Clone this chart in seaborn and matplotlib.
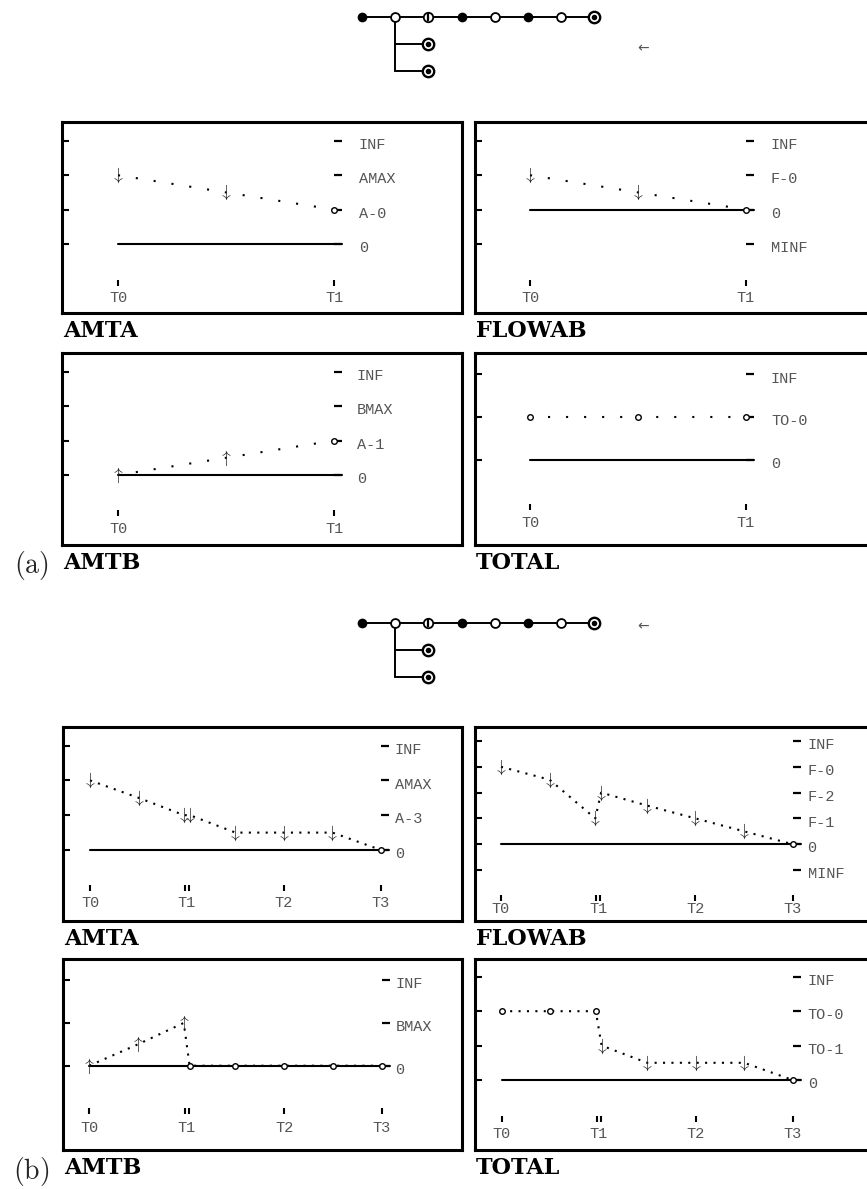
import matplotlib
matplotlib.use("Agg")
import matplotlib.pyplot as plt
import matplotlib.transforms as mtransforms
import pandas as pd
import seaborn as sns

# ------------------------------------------------------------------ data
TREE_NODES_A = ["filled", "open", "bar", "filled", "open", "filled", "open", "final"]
TREE_BRANCH_A = ["final", "final"]
TREE_NODES_B = ["filled", "open", "bar", "filled", "open", "filled", "open", "final"]
TREE_BRANCH_B = ["final", "final"]
TREE_BRANCH_PARENT = 1

TIMES_A = ["T0", "T1"]
TICK_COUNT_A = [1, 1]
TIMES_B = ["T0", "T1", "T2", "T3"]
TICK_COUNT_B = [1, 2, 1, 1]

# part (a)
AMTA_A_LANDMARKS = ["0", "A-0", "AMAX", "INF"]
AMTA_A_T = [0, 0.5, 1]
AMTA_A_V = [2, 1.5, 1]
AMTA_A_DIR = ["dec", "dec", "std"]

FLOWAB_A_LANDMARKS = ["MINF", "0", "F-0", "INF"]
FLOWAB_A_T = [0, 0.5, 1]
FLOWAB_A_V = [2, 1.5, 1]
FLOWAB_A_DIR = ["dec", "dec", "std"]

AMTB_A_LANDMARKS = ["0", "A-1", "BMAX", "INF"]
AMTB_A_T = [0, 0.5, 1]
AMTB_A_V = [0, 0.5, 1]
AMTB_A_DIR = ["inc", "inc", "std"]

TOTAL_A_LANDMARKS = ["0", "TO-0", "INF"]
TOTAL_A_T = [0, 0.5, 1]
TOTAL_A_V = [1, 1, 1]
TOTAL_A_DIR = ["std", "std", "std"]

# part (b)
B_T = [0, 0.5, 0.97, 1.03, 1.5, 2, 2.5, 3]

AMTA_B_LANDMARKS = ["0", "A-3", "AMAX", "INF"]
AMTA_B_V = [2, 1.5, 1, 1, 0.5, 0.5, 0.5, 0]
AMTA_B_DIR = ["dec", "dec", "dec", "dec", "dec", "dec", "dec", "std"]

FLOWAB_B_LANDMARKS = ["MINF", "0", "F-1", "F-2", "F-0", "INF"]
FLOWAB_B_V = [4, 3.5, 2, 3, 2.5, 2, 1.5, 1]
FLOWAB_B_DIR = ["dec", "dec", "dec", "dec", "dec", "dec", "dec", "std"]

AMTB_B_LANDMARKS = ["0", "BMAX", "INF"]
AMTB_B_V = [0, 0.5, 1, 0, 0, 0, 0, 0]
AMTB_B_DIR = ["inc", "inc", "inc", "std", "std", "std", "std", "std"]

TOTAL_B_LANDMARKS = ["0", "TO-1", "TO-0", "INF"]
TOTAL_B_V = [2, 2, 2, 1, 0.5, 0.5, 0.5, 0]
TOTAL_B_DIR = ["std", "std", "std", "dec", "dec", "dec", "dec", "std"]

# ------------------------------------------------------------------ style
sns.set_theme(style="white")
plt.rcParams["mathtext.fontset"] = "cm"
plt.rcParams["font.family"] = ["DejaVu Sans"]

W, H = 867, 1189
fig = plt.figure(figsize=(W / 100, H / 100), dpi=100)
fig.patch.set_facecolor("white")

MONO = "Liberation Mono"
GRAY = "#555555"
TITLE_FONT = "DejaVu Serif"


def add_px_axes(L, T, R, B):
    return fig.add_axes([L / W, 1 - B / H, (R - L) / W, (B - T) / H])


# layout (pixel geometry of each panel)
GEOM = {
    "amta_a":   dict(L=62, T=122, R=462, B=313, x0=118, dx=216, y0=244, dy=34.4,
                     tick=283, lab=298, lm=25, period=18.0),
    "flowab_a": dict(L=475, T=122, R=885, B=313, x0=530, dx=216, y0=244, dy=34.4,
                     tick=283, lab=298, lm=25, period=18.0),
    "amtb_a":   dict(L=62, T=353, R=462, B=545, x0=118, dx=216, y0=475, dy=34.4,
                     tick=513, lab=529, lm=23, period=18.0),
    "total_a":  dict(L=475, T=353, R=885, B=545, x0=530, dx=216, y0=460, dy=42.8,
                     tick=507, lab=523, lm=25, period=18.0),
    "amta_b":   dict(L=63, T=727, R=462, B=921, x0=90, dx=97, y0=850, dy=34.8,
                     tick=888, lab=903, lm=14, period=8.4),
    "flowab_b": dict(L=475, T=727, R=885, B=921, x0=501, dx=97.2, y0=870, dy=25.8,
                     tick=898, lab=909, lm=15, period=8.4),
    "amtb_b":   dict(L=63, T=959, R=462, B=1150, x0=89.3, dx=97.4, y0=1065.7, dy=42.8,
                     tick=1111, lab=1127.7, lm=14, period=8.4),
    "total_b":  dict(L=475, T=959, R=885, B=1150, x0=501.7, dx=97, y0=1080, dy=34.4,
                     tick=1119, lab=1134, lm=15, period=8.4),
}


def draw_panel(key, title, landmarks, t, v, dirs, tnames, tcounts):
    g = GEOM[key]
    ax = add_px_axes(g["L"], g["T"], g["R"], g["B"])
    ax.set_facecolor("none")

    def px(p):
        return p / g["dx"]

    def lev(y):
        return (g["y0"] - y) / g["dy"]

    levels = list(range(len(landmarks)))
    tlast = len(tnames) - 1
    zero = landmarks.index("0")

    # zero axis line
    zdf = pd.DataFrame({"t": [0, tlast + px(8)], "v": [zero, zero]})
    sns.lineplot(data=zdf, x="t", y="v", ax=ax, color="black", linewidth=1.5,
                 estimator=None, sort=False)
    # landmark dashes + names
    ax.hlines(levels, tlast, tlast + px(8), color="black", linewidth=1.6)
    lab_tr = mtransforms.offset_copy(ax.transData, fig=fig, y=-3, units="points")
    for lv, name in zip(levels, landmarks):
        ax.text(tlast + px(g["lm"]), lv, name, transform=lab_tr, ha="left",
                va="center", fontsize=11, family=MONO, color=GRAY)

    # behaviour (dotted)
    bdf = pd.DataFrame({"t": t, "v": v, "d": dirs})
    gap = g["period"] / 2.08 - 1
    sns.lineplot(data=bdf, x="t", y="v", ax=ax, color="black", linewidth=1.5,
                 linestyle=(0, (1, gap)), estimator=None, sort=False)
    dec = bdf[bdf.d == "dec"]
    inc = bdf[bdf.d == "inc"]
    std = bdf[bdf.d == "std"]
    ax.plot(dec.t, dec.v, ls="none", marker=r"$\downarrow$", ms=11, color="#222222",
            mew=0, zorder=4)
    ax.plot(inc.t, inc.v, ls="none", marker=r"$\uparrow$", ms=11, color="#222222",
            mew=0, zorder=4)
    ax.plot(std.t, std.v, ls="none", marker="o", ms=4.0, mfc="white", mec="black",
            mew=1.0, zorder=4)

    # time ticks and names
    for i, (name, cnt) in enumerate(zip(tnames, tcounts)):
        xs = [i] if cnt == 1 else [i - px(2), i + px(2)]
        ax.plot(xs, [lev(g["tick"])] * cnt, ls="none", marker="|", ms=4.5, mew=1.5,
                color="black")
        ax.text(i, lev(g["lab"]), name, ha="center", va="center", fontsize=11,
                family=MONO, color=GRAY)

    ax.set_xlim((g["L"] - g["x0"]) / g["dx"], (g["R"] - g["x0"]) / g["dx"])
    ax.set_ylim(lev(g["B"]), lev(g["T"]))
    ax.set_xlabel("")
    ax.set_ylabel("")
    ax.set_xticks([])
    ax.set_yticks(levels)
    ax.set_yticklabels([])
    ax.tick_params(axis="y", left=True, right=False, direction="in", length=5,
                   width=1.5, color="black")
    ax.grid(False)
    for s in ax.spines.values():
        s.set_visible(True)
        s.set_linewidth(2.2)
        s.set_color("black")

    fig.text((g["L"] + 1) / W, 1 - (g["B"] + 18) / H, title, ha="left", va="center",
             fontsize=16, family=TITLE_FONT, weight="bold", color="black")


def draw_node(ax, x, y, kind):
    if kind == "filled":
        ax.plot([x], [y], "o", ms=7.0, color="black", mew=0, zorder=3)
    elif kind == "open":
        ax.plot([x], [y], "o", ms=6.4, mfc="white", mec="black", mew=1.3, zorder=3)
    elif kind == "bar":
        ax.plot([x], [y], "o", ms=6.8, mfc="white", mec="black", mew=1.3, zorder=3)
        ax.plot([x], [y], "|", ms=6.4, color="black", mew=1.6, zorder=4)
    else:  # final
        ax.plot([x], [y], "o", ms=8.2, mfc="white", mec="black", mew=1.7, zorder=3)
        ax.plot([x], [y], "o", ms=4.0, color="black", mew=0, zorder=4)


def draw_tree(nodes, branch, top_px, arrow_px):
    x0, sx = 362, 33.2
    y0, sy = top_px, 27.1
    L, R, T, B = 330, 690, y0 - 17, y0 + 2 * sy + 17
    ax = add_px_axes(L, T, R, B)
    ax.axis("off")
    n = len(nodes)
    main = pd.DataFrame({"x": list(range(n)), "y": [0] * n})
    sns.lineplot(data=main, x="x", y="y", ax=ax, color="black", linewidth=1.4,
                 estimator=None, sort=False)
    p = TREE_BRANCH_PARENT
    rows = list(range(1, len(branch) + 1))
    ax.plot([p, p], [0, len(branch)], color="black", lw=1.4)
    for r in rows:
        ax.plot([p, p + 1], [r, r], color="black", lw=1.4)
    for i, k in enumerate(nodes):
        draw_node(ax, i, 0, k)
    for r, k in zip(rows, branch):
        draw_node(ax, p + 1, r, k)
    ax.text((arrow_px[0] - x0) / sx, (arrow_px[1] - y0) / sy, "\u2190", ha="center",
            va="center", fontsize=10, color="#555555", family="DejaVu Sans")
    ax.set_xlim((L - x0) / sx, (R - x0) / sx)
    ax.set_ylim((B - y0) / sy, (T - y0) / sy)


# ------------------------------------------------------------------ part (a)
draw_tree(TREE_NODES_A, TREE_BRANCH_A, 17, (643, 48))
draw_panel("amta_a", "AMTA", AMTA_A_LANDMARKS, AMTA_A_T, AMTA_A_V, AMTA_A_DIR,
           TIMES_A, TICK_COUNT_A)
draw_panel("flowab_a", "FLOWAB", FLOWAB_A_LANDMARKS, FLOWAB_A_T, FLOWAB_A_V,
           FLOWAB_A_DIR, TIMES_A, TICK_COUNT_A)
draw_panel("amtb_a", "AMTB", AMTB_A_LANDMARKS, AMTB_A_T, AMTB_A_V, AMTB_A_DIR,
           TIMES_A, TICK_COUNT_A)
draw_panel("total_a", "TOTAL", TOTAL_A_LANDMARKS, TOTAL_A_T, TOTAL_A_V, TOTAL_A_DIR,
           TIMES_A, TICK_COUNT_A)
fig.text(31 / W, 1 - 565 / H, r"$(\mathrm{a})$", ha="center", va="center", fontsize=20)

# ------------------------------------------------------------------ part (b)
draw_tree(TREE_NODES_B, TREE_BRANCH_B, 622.7, (643, 626))
draw_panel("amta_b", "AMTA", AMTA_B_LANDMARKS, B_T, AMTA_B_V, AMTA_B_DIR,
           TIMES_B, TICK_COUNT_B)
draw_panel("flowab_b", "FLOWAB", FLOWAB_B_LANDMARKS, B_T, FLOWAB_B_V, FLOWAB_B_DIR,
           TIMES_B, TICK_COUNT_B)
draw_panel("amtb_b", "AMTB", AMTB_B_LANDMARKS, B_T, AMTB_B_V, AMTB_B_DIR,
           TIMES_B, TICK_COUNT_B)
draw_panel("total_b", "TOTAL", TOTAL_B_LANDMARKS, B_T, TOTAL_B_V, TOTAL_B_DIR,
           TIMES_B, TICK_COUNT_B)
fig.text(31 / W, 1 - 1172 / H, r"$(\mathrm{b})$", ha="center", va="center", fontsize=20)

fig.savefig("out.png", dpi=100, facecolor="white")
